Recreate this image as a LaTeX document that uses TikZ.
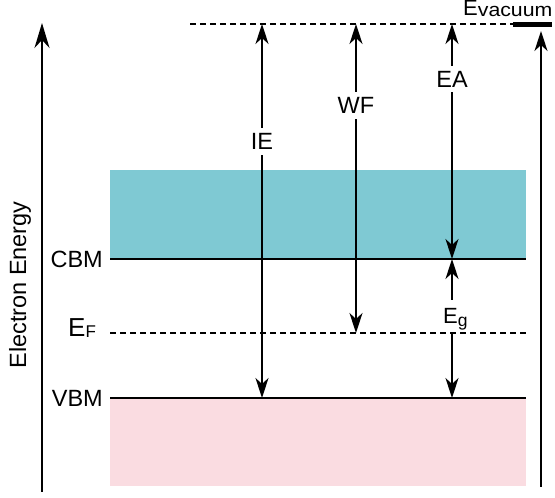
\documentclass[tikz,border=0pt]{standalone}
\usepackage{fontspec}
\usepackage{graphicx}
\setmainfont{Liberation Sans}
\usetikzlibrary{arrows.meta}
\definecolor{cband}{HTML}{7FC9D3}
\definecolor{vband}{HTML}{FADCE1}
\tikzset{
  tipA/.tip={Stealth[length=25pt,width=15pt,inset=8pt]},
  tipB/.tip={Stealth[length=20pt,width=13pt,inset=6pt]},
  axisline/.style={line width=2pt,-tipA},
  arr/.style={line width=1.8pt,-tipB},
  darr/.style={line width=1.8pt,tipB-tipB},
  levelline/.style={line width=1.8pt},
  dline/.style={line width=1.8pt,dash pattern=on 6pt off 4pt},
  lbl/.style={font=\fontsize{23.5}{27}\selectfont,inner xsep=2pt,inner ysep=0pt},
  wlbl/.style={lbl,fill=white,inner ysep=5pt},
}
\begin{document}
\begin{tikzpicture}[x=1pt,y=1pt]
\useasboundingbox (0,0) rectangle (555,498);
% bands
\fill[cband] (110,239) rectangle (526,328);
\fill[vband] (110,12) rectangle (526,100);
% level lines
\coordinate (cbmL) at (110,239); \coordinate (cbmR) at (526,239);
\coordinate (efL) at (110,165); \coordinate (efR) at (526,165);
\coordinate (vbmL) at (110,100); \coordinate (vbmR) at (526,100);
\coordinate (vacL) at (190,474); \coordinate (vacR) at (513,474);
\coordinate (barL) at (513,473); \coordinate (barR) at (552,473);
\draw[levelline] (cbmL) -- (cbmR);
\draw[levelline] (vbmL) -- (vbmR);
\draw[dline] (efL) -- (efR);
\draw[dline] (vacL) -- (vacR);
\draw[line width=5pt] (barL) -- (barR);
% axes
\coordinate (lax0) at (42,6); \coordinate (lax1) at (42,475);
\coordinate (rax0) at (541,11); \coordinate (rax1) at (541,467);
\draw[axisline] (lax0) -- (lax1);
\draw[arr] (rax0) -- (rax1);
% vertical energy arrows
\coordinate (ieT) at (262,474); \coordinate (ieB) at (262,100);
\coordinate (wfT) at (356,474); \coordinate (wfB) at (356,165);
\coordinate (eaT) at (452,474); \coordinate (eaB) at (452,239);
\draw[darr] (ieT) -- (ieB);
\draw[darr] (wfT) -- (wfB);
\draw[darr] (eaT) -- (eaB);
\node[wlbl] (ie) at (262,356.5) {IE};
\node[wlbl] (wf) at (356,392.5) {WF};
\node[wlbl] (ea) at (452,419) {EA};
% band gap
\coordinate (egA) at (452,198); \coordinate (egB) at (452,165);
\draw[arr] (egA) -- (cbmR -| egA);
\draw[arr] (egB) -- (vbmR -| egB);
\node[anchor=base west,inner sep=0pt] (eg) at (443,174)
  {\fontsize{22}{24}\selectfont E\raisebox{-2.5pt}{\fontsize{17.5}{18}\selectfont g}};
% left labels
\node[lbl,anchor=east] (cbm) at (105,239) {CBM};
\node[lbl,anchor=east] (vbm) at (105,99.5) {VBM};
\node[anchor=base west,inner sep=0pt] (ef) at (68,161)
  {\fontsize{26}{28}\selectfont E\raisebox{-1pt}{\fontsize{17}{18}\selectfont F}};
\node[lbl,rotate=90] (ee) at (20,213) {Electron Energy};
% vacuum label
\node[anchor=base west,inner sep=0pt] (evac) at (463,482)
  {\fontsize{22}{24}\selectfont E\raisebox{-1pt}{\fontsize{19}{20}\selectfont\scalebox{1.12}[1]{vacuum}}};
\end{tikzpicture}
\end{document}
